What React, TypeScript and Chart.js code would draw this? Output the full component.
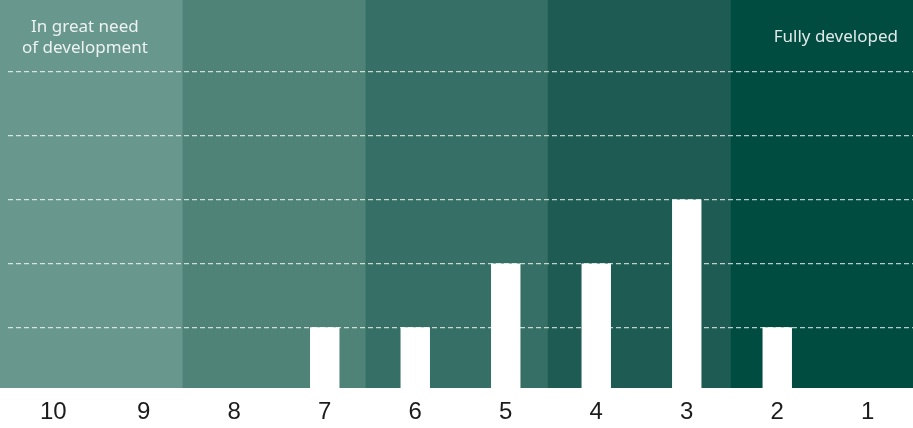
import React, { useEffect, useRef } from "react";
import { Chart, registerables } from "chart.js";

Chart.register(...registerables);

// Scores from 10 (in great need of development) down to 1 (fully developed)
const categories = ["10", "9", "8", "7", "6", "5", "4", "3", "2", "1"];
const counts = [0, 0, 0, 1, 1, 2, 2, 3, 1, 0];
const gridValues = [1, 2, 3, 4, 5];

// Background zones, light to dark, each covering two scores
const zoneColors = ["#68978e", "#4f8378", "#356f66", "#1e5c53", "#014c41"];
const leftNote = ["In great need", "of development"];
const rightNote = "Fully developed";

const zonesPlugin = {
  id: "zones",
  beforeDraw(chart: any) {
    const { ctx, width, chartArea } = chart;
    const w = width / zoneColors.length;
    ctx.save();
    zoneColors.forEach((c, i) => {
      ctx.fillStyle = c;
      ctx.fillRect(i * w, 0, w + 0.5, chartArea.bottom);
    });
    ctx.restore();
  },
  afterDraw(chart: any) {
    const { ctx, width } = chart;
    const w = width / zoneColors.length;
    ctx.save();
    ctx.fillStyle = "rgba(255,255,255,0.88)";
    ctx.font = '17px "Noto Sans", sans-serif';
    ctx.textBaseline = "alphabetic";
    ctx.textAlign = "center";
    ctx.fillText(leftNote[0], w * 0.465, 31.5);
    ctx.fillText(leftNote[1], w * 0.465, 52.5);
    ctx.textAlign = "right";
    ctx.fillText(rightNote, width - 15, 41.5);
    ctx.restore();
  },
};

export default function App() {
  const ref = useRef<HTMLCanvasElement>(null);

  useEffect(() => {
    if (!ref.current) return;
    const chart = new Chart(ref.current, {
      type: "bar",
      data: {
        labels: categories,
        datasets: [
          {
            data: counts,
            backgroundColor: "#ffffff",
            borderWidth: 0,
            barPercentage: 0.325,
            categoryPercentage: 1,
          },
        ],
      },
      options: {
        responsive: false,
        animation: false,
        layout: { padding: { left: 8, right: 0, top: 8, bottom: 0 } },
        plugins: { legend: { display: false }, tooltip: { enabled: false } },
        scales: {
          x: {
            grid: { display: false, drawTicks: false },
            border: { display: false },
            afterFit: (scale: any) => {
              scale.height = 40;
            },
            ticks: {
              color: "#1c1c1c",
              padding: 10,
              font: { family: '"Liberation Sans", Arial, sans-serif', size: 24 },
            },
          },
          y: {
            min: 0.05,
            max: 6,
            ticks: { display: false, stepSize: 1 },
            grid: {
              drawTicks: false,
              lineWidth: 1.2,
              color: (c: any) =>
                gridValues.includes(c.tick?.value) ? "rgba(255,255,255,0.72)" : "rgba(0,0,0,0)",
            },
            border: { display: false, dash: [5, 3] },
          },
        },
      },
      plugins: [zonesPlugin],
    });
    return () => chart.destroy();
  }, []);

  return (
    <div style={{ position: "absolute", left: 0, top: 0, width: 913, height: 428, background: "#ffffff" }}>
      <canvas ref={ref} width={913} height={428} style={{ display: "block" }} />
    </div>
  );
}
